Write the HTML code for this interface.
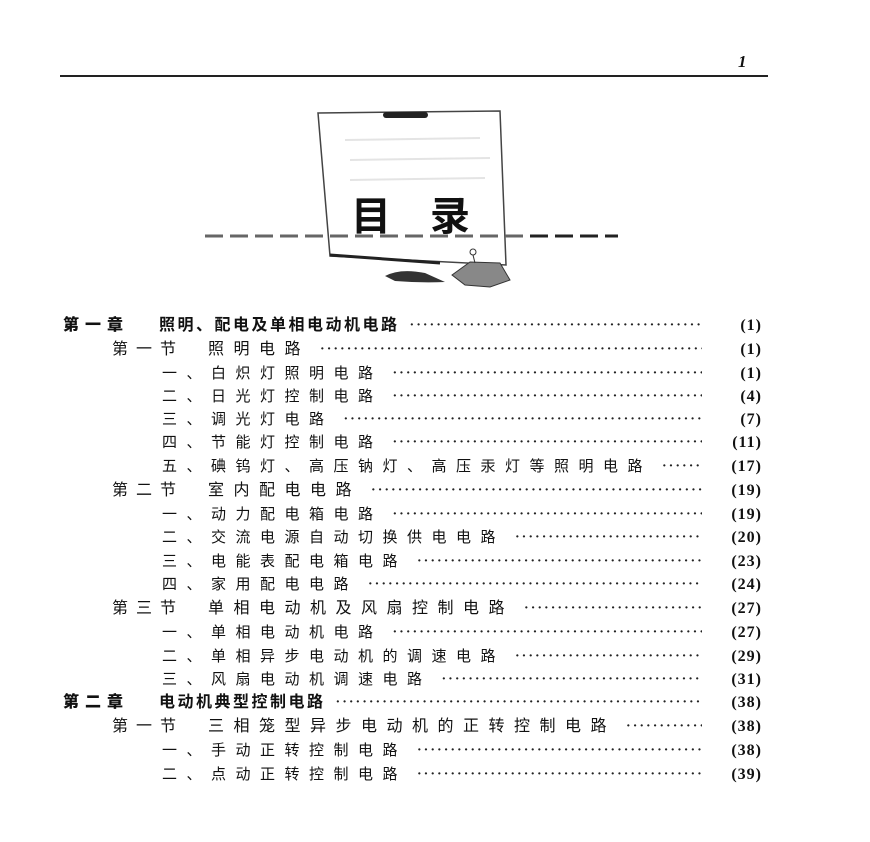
<!DOCTYPE html>
<html><head><meta charset="utf-8">
<style>
body{margin:0;background:#fff;width:870px;height:842px;position:relative;overflow:hidden;font-family:"Liberation Serif","Noto Serif CJK SC","Noto Sans CJK SC",serif;color:#111}
.r{position:absolute;height:20px;line-height:20px;display:flex;white-space:nowrap;right:108px;font-size:14px}
.t{flex:none}
.d{flex:1;overflow:hidden;margin:0 10px 0 10px;letter-spacing:2px;color:#222;font-weight:bold}
.d::before{content:"························································································································"}
.n{flex:none;width:50px;text-align:right;font-family:"Liberation Serif",serif;font-weight:bold;font-size:16px;letter-spacing:1px}
.c .t{font-weight:bold;font-family:"Liberation Sans","Noto Sans CJK SC",sans-serif;font-size:16px;letter-spacing:2.5px}
.c .t b{letter-spacing:6px;margin-right:30px}
.s .t{letter-spacing:9.5px;font-family:"Liberation Sans","Noto Sans CJK SC",sans-serif;font-size:16px}
.s .t b{font-weight:normal;letter-spacing:8px;margin-right:24px}
.i .t{letter-spacing:9.5px;font-size:15px;font-family:"Liberation Sans","Noto Sans CJK SC",sans-serif}
</style></head><body>
<div style="position:absolute;left:60px;top:75px;width:708px;height:2px;background:#222"></div>
<div style="position:absolute;left:738px;top:52px;font:italic bold 17px 'Liberation Serif',serif">1</div>

<svg style="position:absolute;left:0;top:0" width="870" height="320">
<polygon points="318,113 500,111 506,265 330,256" fill="#fff" stroke="#444" stroke-width="1.5"/>
<line x1="330" y1="255" x2="440" y2="263" stroke="#222" stroke-width="3"/>
<rect x="383" y="112" width="45" height="6" rx="3" fill="#222"/>
<g stroke="#e4e4e4" stroke-width="2"><line x1="345" y1="140" x2="480" y2="138"/><line x1="350" y1="160" x2="490" y2="158"/><line x1="350" y1="180" x2="485" y2="178"/></g>
<line x1="205" y1="236" x2="618" y2="236" stroke="#666" stroke-width="3" stroke-dasharray="18,7"/>
<line x1="530" y1="236" x2="618" y2="236" stroke="#222" stroke-width="3" stroke-dasharray="18,7"/>
<text x="351" y="230" font-family="Liberation Sans,Noto Sans CJK SC,sans-serif" font-weight="bold" font-size="40" fill="#111">目</text>
<text x="430" y="230" font-family="Liberation Sans,Noto Sans CJK SC,sans-serif" font-weight="bold" font-size="40" fill="#111">录</text>
<polygon points="452,275 470,262 500,263 510,280 490,287 465,285" fill="#888" stroke="#333"/>
<circle cx="473" cy="252" r="3" fill="none" stroke="#333"/>
<line x1="473" y1="255" x2="475" y2="263" stroke="#333"/>
<path d="M385,276 Q400,268 425,273 L445,282 Q420,283 395,281 Z" fill="#333"/>
</svg>

<div class="r c" style="left:63px;top:316px"><span class="t"><b>第一章</b>照明、配电及单相电动机电路</span><span class="d"></span><span class="n">(1)</span></div>
<div class="r s" style="left:112px;top:340px"><span class="t"><b>第一节</b>照明电路</span><span class="d"></span><span class="n">(1)</span></div>
<div class="r i" style="left:162px;top:364px"><span class="t">一、白炽灯照明电路</span><span class="d"></span><span class="n">(1)</span></div>
<div class="r i" style="left:162px;top:387px"><span class="t">二、日光灯控制电路</span><span class="d"></span><span class="n">(4)</span></div>
<div class="r i" style="left:162px;top:410px"><span class="t">三、调光灯电路</span><span class="d"></span><span class="n">(7)</span></div>
<div class="r i" style="left:162px;top:433px"><span class="t">四、节能灯控制电路</span><span class="d"></span><span class="n">(11)</span></div>
<div class="r i" style="left:162px;top:457px"><span class="t">五、碘钨灯、高压钠灯、高压汞灯等照明电路</span><span class="d"></span><span class="n">(17)</span></div>
<div class="r s" style="left:112px;top:481px"><span class="t"><b>第二节</b>室内配电电路</span><span class="d"></span><span class="n">(19)</span></div>
<div class="r i" style="left:162px;top:505px"><span class="t">一、动力配电箱电路</span><span class="d"></span><span class="n">(19)</span></div>
<div class="r i" style="left:162px;top:528px"><span class="t">二、交流电源自动切换供电电路</span><span class="d"></span><span class="n">(20)</span></div>
<div class="r i" style="left:162px;top:552px"><span class="t">三、电能表配电箱电路</span><span class="d"></span><span class="n">(23)</span></div>
<div class="r i" style="left:162px;top:575px"><span class="t">四、家用配电电路</span><span class="d"></span><span class="n">(24)</span></div>
<div class="r s" style="left:112px;top:599px"><span class="t"><b>第三节</b>单相电动机及风扇控制电路</span><span class="d"></span><span class="n">(27)</span></div>
<div class="r i" style="left:162px;top:623px"><span class="t">一、单相电动机电路</span><span class="d"></span><span class="n">(27)</span></div>
<div class="r i" style="left:162px;top:647px"><span class="t">二、单相异步电动机的调速电路</span><span class="d"></span><span class="n">(29)</span></div>
<div class="r i" style="left:162px;top:670px"><span class="t">三、风扇电动机调速电路</span><span class="d"></span><span class="n">(31)</span></div>
<div class="r c" style="left:63px;top:693px"><span class="t"><b>第二章</b>电动机典型控制电路</span><span class="d"></span><span class="n">(38)</span></div>
<div class="r s" style="left:112px;top:717px"><span class="t"><b>第一节</b>三相笼型异步电动机的正转控制电路</span><span class="d"></span><span class="n">(38)</span></div>
<div class="r i" style="left:162px;top:741px"><span class="t">一、手动正转控制电路</span><span class="d"></span><span class="n">(38)</span></div>
<div class="r i" style="left:162px;top:765px"><span class="t">二、点动正转控制电路</span><span class="d"></span><span class="n">(39)</span></div>
</body></html>
